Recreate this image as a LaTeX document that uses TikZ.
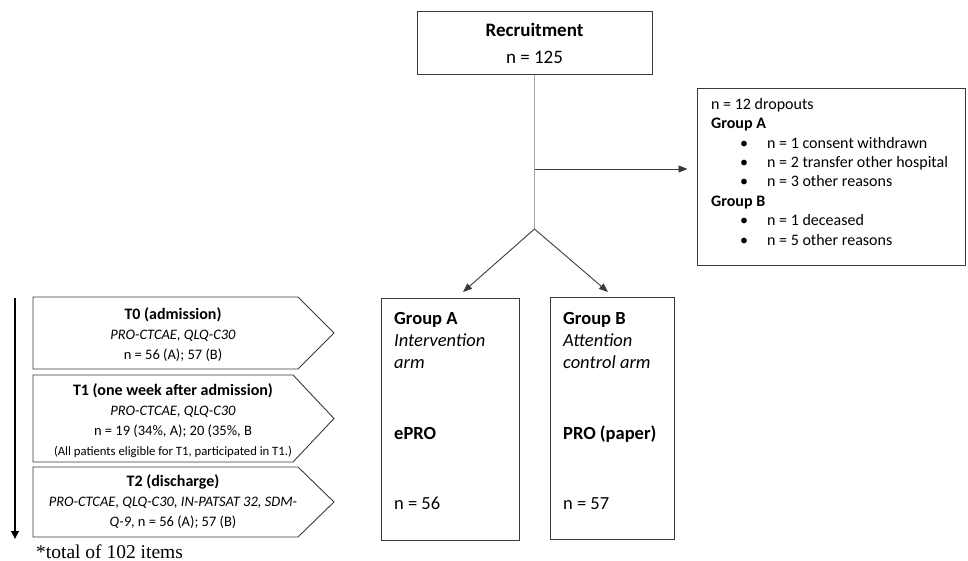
\documentclass[tikz,border=0pt]{standalone}
\usepackage{fontspec}
\setmainfont{Carlito}
\newfontfamily\timesf{Liberation Serif}
\usetikzlibrary{arrows.meta}
\definecolor{boxline}{HTML}{3A3A3A}
\definecolor{lightline}{HTML}{A6A6A6}
\newcommand\mytitlefont{\bfseries\fontsize{16}{20}\selectfont}
\begin{document}
\begin{tikzpicture}[x=1pt,y=-1pt,
  box/.style={draw=boxline, line width=1pt, inner sep=0pt},
  conn/.style={draw=boxline, line width=0.9pt, -{Triangle[length=9pt,width=7pt]}},
  tshape/.style={draw=boxline, line width=0.9pt},
  ttext/.style={align=center, inner sep=0pt, font=\fontsize{14.5}{20}\selectfont},
  grptext/.style={anchor=north west, align=left, inner sep=0pt, font=\fontsize{18.5}{22}\selectfont}]
\useasboundingbox (0,0) rectangle (968,561);

% Recruitment
\node[box, minimum width=235pt, minimum height=63pt, align=center,
      font=\fontsize{19}{27}\selectfont] (rec) at (534.5,43.5) {\textbf{Recruitment}\\n = 125};

\coordinate (branch) at (534.5,169);
\coordinate (split) at (534.5,229);
\coordinate (aend) at (463,292);
\coordinate (bend) at (608,292);

% Dropouts
\node[box, minimum width=268pt, minimum height=176pt] (drop) at (831,177) {};
\node[anchor=north west, align=left, inner sep=0pt, font=\fontsize{16}{19.4}\selectfont] (droptext) at (711,98)
{n = 12 dropouts\\
 \textbf{Group A}\\
 \makebox[56pt][l]{\hspace{29pt}\textbullet}n = 1 consent withdrawn\\
 \makebox[56pt][l]{\hspace{29pt}\textbullet}n = 2 transfer other hospital\\
 \makebox[56pt][l]{\hspace{29pt}\textbullet}n = 3 other reasons\\
 \textbf{Group B}\\
 \makebox[56pt][l]{\hspace{29pt}\textbullet}n = 1 deceased\\
 \makebox[56pt][l]{\hspace{29pt}\textbullet}n = 5 other reasons};

% Groups
\node[box, minimum width=138pt, minimum height=242pt] (ga) at (450,419) {};
\node[box, minimum width=124pt, minimum height=242pt] (gb) at (612,418.5) {};
\node[grptext] (gatext) at (394,312)
{\textbf{Group A}\\ \textit{Intervention}\\ \textit{arm}\\[49pt] \textbf{ePRO}\\[48pt] n = 56};
\node[grptext] (gbtext) at (563,312)
{\textbf{Group B}\\ \textit{Attention}\\ \textit{control arm}\\[49pt] \textbf{PRO (paper)}\\[48pt] n = 57};

% connectors
\draw[lightline, line width=0.9pt] (rec.south) -- (split);
\draw[conn, shorten >=9pt] (branch) -- (branch -| drop.west);
\draw[conn] (split) -- (aend);
\draw[conn] (split) -- (bend);

% Timeline
\coordinate (tltop) at (15,298);
\coordinate (tlbot) at (15,539);
\draw[line width=2pt, -{Triangle[length=8pt,width=7.5pt]}] (tltop) -- (tlbot);

\draw[tshape] (33,297) -- (298,297) -- (334,333) -- (298,369) -- (33,369) -- cycle;
\draw[tshape] (33,375) -- (293,375) -- (334,418.5) -- (293,462) -- (33,462) -- cycle;
\draw[tshape] (33,467) -- (298,467) -- (334,502) -- (298,537) -- (33,537) -- cycle;

\node[ttext] (t0) at (173,334.5) {{\mytitlefont T0 (admission)}\\ \textit{PRO-CTCAE, QLQ-C30}\\ n = 56 (A); 57 (B)};
\node[ttext] (t1) at (173,421) {{\mytitlefont T1 (one week after admission)}\\ \textit{PRO-CTCAE, QLQ-C30}\\ n = 19 (34\%, A); 20 (35\%, B\\ {\fontsize{12.7}{14}\selectfont (All patients eligible for T1, participated in T1.)}};
\node[ttext] (t2) at (173,502) {{\mytitlefont T2 (discharge)}\\ \textit{PRO-CTCAE, QLQ-C30, IN-PATSAT 32, SDM-}\\ \textit{Q-9}, n = 56 (A); 57 (B)};

\node[anchor=base west, inner sep=0pt, font=\timesf\fontsize{19.5}{22}\selectfont] (foot) at (36,558) {*total of 102 items};
\end{tikzpicture}
\end{document}
